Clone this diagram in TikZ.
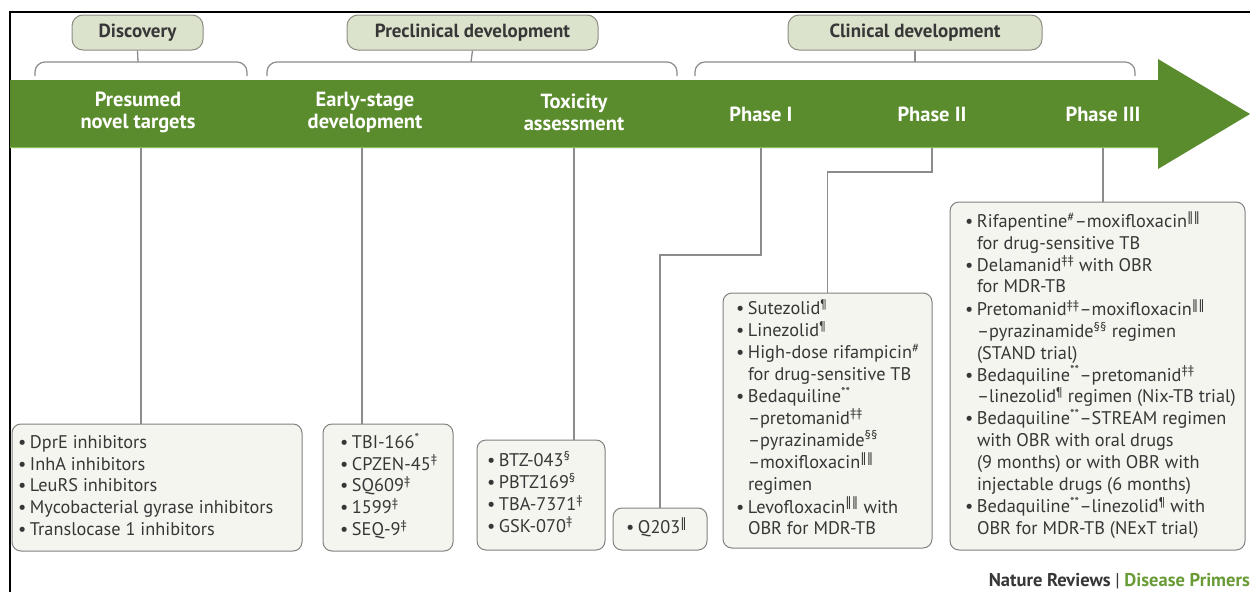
\documentclass[tikz,border=0pt]{standalone}
\usepackage{fontspec}
\setmainfont{PT Sans}
\newfontfamily\symf{DejaVu Sans}
\definecolor{bandgreen}{RGB}{90,140,45}
\definecolor{bandlight}{RGB}{140,190,90}
\definecolor{pillfill}{RGB}{220,227,205}
\definecolor{pillline}{RGB}{140,140,130}
\definecolor{boxfill}{RGB}{244,245,239}
\definecolor{boxline}{RGB}{130,130,130}
\definecolor{txt}{RGB}{55,55,55}
\definecolor{connc}{RGB}{140,140,140}
\definecolor{creditgreen}{RGB}{105,155,55}
\newcommand\bul{\makebox[12pt][l]{•}}
\newcommand\ind{\hspace*{12pt}}
\newcommand\sy[1]{\textsuperscript{#1}}
\newcommand\dbar{{\symf ‖}}
\newcommand\lst[2]{\makebox[#1][l]{\begin{tabular}{@{}l@{}}#2\end{tabular}}}
\begin{document}
\begin{tikzpicture}[x=1pt,y=-1pt,
  pill/.style={draw=pillline, fill=pillfill, rounded corners=11pt, line width=1pt,
    minimum height=35pt, inner sep=0pt, text=txt, font={\fontsize{19}{22}\selectfont\bfseries}},
  bandlabel/.style={text=white, align=center, inner sep=0pt, font={\fontsize{20.5}{22}\selectfont\bfseries}},
  listbox/.style={draw=boxline, fill=boxfill, rounded corners=9pt, line width=1pt,
    text=txt, inner ysep=0pt, anchor=center,
    font={\fontsize{18.3}{21.8}\selectfont}},
  conn/.style={draw=connc, line width=1.3pt},
  bracketline/.style={draw=connc, line width=1.2pt, rounded corners=10pt}]
\useasboundingbox (0,0) rectangle (1250,592);
\fill[white] (0,0) rectangle (1250,592);
% frame
\draw[black, line width=2pt] (10,592) -- (10,12) -- (1250,12);
% arrow band
\fill[bandgreen] (10,80) -- (1158,80) -- (1158,59) -- (1250,114) -- (1158,169) -- (1158,148) -- (10,148) -- cycle;
\draw[bandlight, line width=1pt] (10,147.5) -- (1158,147.5);
% pills
\node[pill, minimum width=131pt] (disc) at (137.5,32.5) {Discovery};
\node[pill, minimum width=251pt] (precl) at (472.5,32.5) {Preclinical development};
\node[pill, minimum width=254pt] (clin) at (915,32.5) {Clinical development};
% brackets
\coordinate (discbr) at (138,62);
\coordinate (preclbr) at (471,62);
\coordinate (clinbr) at (915,62);
\draw[bracketline] (35,76) -- (35,62) -- (247,62) -- (247,76);
\draw[bracketline] (267,76) -- (267,62) -- (677,62) -- (677,76);
\draw[bracketline] (695,76) -- (695,62) -- (1135,62) -- (1135,76);
\draw[conn] (disc.south) -- (discbr);
\draw[conn] (precl.south) -- (preclbr);
\draw[conn] (clin.south) -- (clinbr);
% band labels
\node[bandlabel] (l1) at (138,112) {Presumed\\novel targets};
\node[bandlabel] (l2) at (365,112) {Early-stage\\development};
\node[bandlabel] (l3) at (574,112) {Toxicity\\assessment};
\node[bandlabel] (l4) at (761,114) {Phase I};
\node[bandlabel] (l5) at (932,114) {Phase II};
\node[bandlabel] (l6) at (1103,114) {Phase III};
\coordinate (b1) at (141,148);
\coordinate (b2) at (362,148);
\coordinate (b3) at (574,148);
\coordinate (b4) at (761,148);
\coordinate (b5) at (932,148);
\coordinate (b6) at (1103,148);
% boxes
\node[listbox, minimum width=290pt, minimum height=127pt, inner xsep=6pt] (box1) at (157,487.5)
{\lst{278pt}{\bul DprE inhibitors\\\bul InhA inhibitors\\\bul LeuRS inhibitors\\\bul Mycobacterial gyrase inhibitors\\\bul Translocase 1 inhibitors}};
\node[listbox, minimum width=130pt, minimum height=127pt, inner xsep=17pt] (box2) at (388,487.5)
{\lst{96pt}{\bul TBI-166\sy{*}\\\bul CPZEN-45\sy{‡}\\\bul SQ609\sy{‡}\\\bul 1599\sy{‡}\\\bul SEQ-9\sy{‡}}};
\node[listbox, minimum width=128pt, minimum height=110pt, inner xsep=10pt] (box3) at (541,495)
{\lst{108pt}{\bul BTZ-043\sy{§}\\\bul PBTZ169\sy{§}\\\bul TBA-7371\sy{‡}\\\bul GSK-070\sy{‡}}};
\node[listbox, minimum width=94pt, minimum height=42pt, inner xsep=13pt] (box4) at (660,529)
{\lst{68pt}{\bul Q203\sy{\dbar}}};
\node[listbox, minimum width=209pt, minimum height=255pt, inner xsep=13pt] (box5) at (827.5,420.5)
{\lst{183pt}{\bul Sutezolid\sy{¶}\\
\bul Linezolid\sy{¶}\\
\bul High-dose rifampicin\sy{\#}\\
\ind for drug-sensitive TB\\
\bul Bedaquiline\sy{**}\\
\ind –pretomanid\sy{‡‡}\\
\ind –pyrazinamide\sy{§§}\\
\ind –moxifloxacin\sy{\dbar\dbar}\\
\ind regimen\\
\bul Levofloxacin\sy{\dbar\dbar} with\\
\ind OBR for MDR-TB}};
\node[listbox, minimum width=295pt, minimum height=348pt, inner xsep=15pt] (box6) at (1097.5,376)
{\lst{265pt}{\bul Rifapentine\sy{\#}–moxifloxacin\sy{\dbar\dbar}\\
\ind for drug-sensitive TB\\
\bul Delamanid\sy{‡‡} with OBR\\
\ind for MDR-TB\\
\bul Pretomanid\sy{‡‡}–moxifloxacin\sy{\dbar\dbar}\\
\ind –pyrazinamide\sy{§§} regimen\\
\ind (STAND trial)\\
\bul Bedaquiline\sy{**}–pretomanid\sy{‡‡}\\
\ind –linezolid\sy{¶} regimen (Nix-TB trial)\\
\bul Bedaquiline\sy{**}–STREAM regimen\\
\ind with OBR with oral drugs\\
\ind (9 months) or with OBR with\\
\ind injectable drugs (6 months)\\
\bul Bedaquiline\sy{**}–linezolid\sy{¶} with\\
\ind OBR for MDR-TB (NExT trial)}};
% connectors
\draw[conn] (b1) -- (b1 |- box1.north);
\draw[conn] (b2) -- (b2 |- box2.north);
\draw[conn] (b3) -- (b3 |- box3.north);
\draw[conn] (b4) -- ++(0,107) -| (box4.north);
\draw[conn] (b5) -- ++(0,24) -| (box5.north);
\draw[conn] (b6) -- (b6 |- box6.north);
% credit
\node[anchor=east, inner sep=0pt, text=txt, font={\fontsize{18.5}{20}\selectfont\bfseries}] (credit) at (1250,581)
{Nature Reviews {\mdseries|} \textcolor{creditgreen}{Disease Primers}};
\end{tikzpicture}
\end{document}
